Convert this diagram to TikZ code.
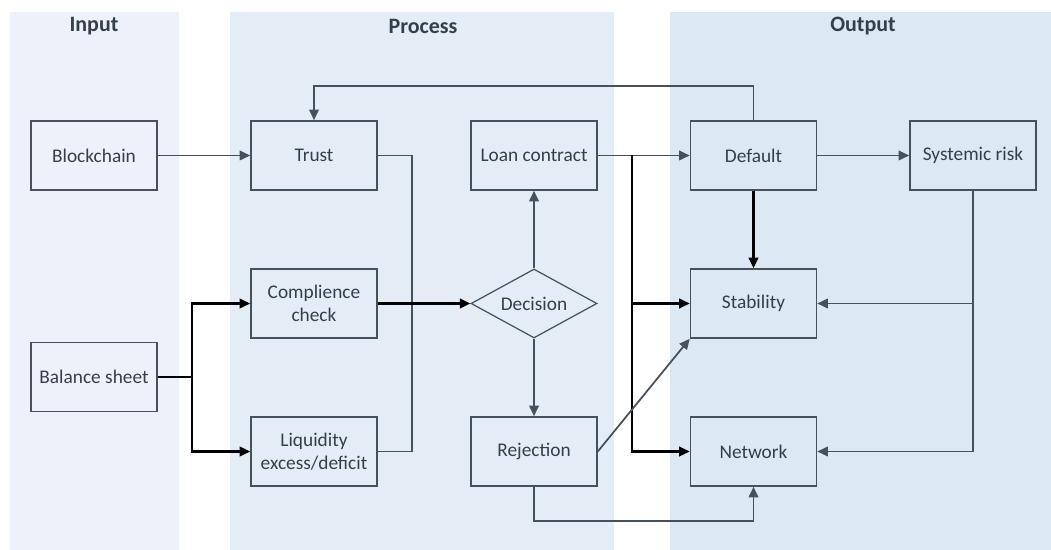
\documentclass[tikz,border=0pt]{standalone}
\usepackage{fontspec}
\setmainfont{Carlito}
\usepackage{xcolor}
\usepackage{tikz}
\usetikzlibrary{arrows.meta, shapes.geometric, positioning}
\definecolor{inputbg}{HTML}{EDF2FA}
\definecolor{processbg}{HTML}{E4ECF6}
\definecolor{outputbg}{HTML}{DCE8F4}
\definecolor{boxline}{HTML}{46515C}
\definecolor{textgrey}{HTML}{353F49}

\tikzset{
  block/.style={draw=boxline, line width=0.9pt, minimum width=2.52cm, minimum height=1.38cm,
    align=center, inner sep=1pt, text=textgrey, font=\fontsize{11}{13}\selectfont},
  decide/.style={block, diamond, aspect=1.83, inner sep=0pt, line width=0.7pt},
  title/.style={text=textgrey, font=\fontsize{12.5}{14}\selectfont\bfseries},
  link/.style={draw=boxline, line width=1pt, -{Triangle[length=2.1mm,width=1.9mm]}},
  plain/.style={draw=boxline, line width=1pt},
  strong/.style={link, draw=black, line width=1.2pt},
}

\begin{document}
\begin{tikzpicture}[x=0.02cm, y=-0.02cm]
  \useasboundingbox (0,0) rectangle (1051,550);
  % columns
  \fill[inputbg] (10,12) rectangle (179,550);
  \fill[processbg] (230,12) rectangle (614,550);
  \fill[outputbg] (670,12) rectangle (1051,550);
  \node[title] (tin) at (94,26) {Input};
  \node[title] (tproc) at (423,26) {Process};
  \node[title] (tout) at (863,26) {Output};

  % boxes
  \node[block] (chain) at (94,155.5) {Blockchain};
  \node[block] (sheet) at (94,377) {Balance sheet};
  \node[block] (trust) at (314,155.5) {Trust};
  \node[block] (check) at (314,303.5) {Complience\\check};
  \node[block] (liquid) at (314,451.5) {Liquidity\\excess/deficit};
  \node[block] (loan) at (534,155.5) {Loan contract};
  \node[decide] (decision) at (534,303.5) {Decision};
  \node[block] (reject) at (534,451.5) {Rejection};
  \node[block] (default) at (753.5,155.5) {Default};
  \node[block] (stable) at (753.5,303.5) {Stability};
  \node[block] (network) at (753.5,451.5) {Network};
  \node[block] (sysrisk) at (973,155.5) {Systemic risk};

  % connectors
  \draw[link] (default.north) -- ++(0,-34) -| (trust.north);
  \draw[link] (chain) -- (trust);
  \draw[plain] (trust.east) -- ++(34,0) |- (liquid.east);
  \draw[strong] (check) -- (decision);
  \draw[strong] (sheet.east) -- ++(34,0) coordinate (sheetfork) |- (check.west);
  \draw[strong] (sheetfork) |- (liquid.west);
  \draw[link] (decision) -- (loan);
  \draw[link] (decision) -- (reject);
  \draw[link] (loan) -- (default);
  \draw[strong] (loan.east) ++(34,0) coordinate (loanfork) |- (stable.west);
  \draw[strong] (loanfork) |- (network.west);
  \draw[link] (reject.east) -- (stable.south west);
  \draw[link] (reject.south) -- ++(0,34) -| (network.south);
  \draw[strong] (default) -- (stable);
  \draw[link] (default) -- (sysrisk);
  \draw[link] (sysrisk.south) |- (stable.east);
  \draw[link] (sysrisk.south) |- (network.east);
\end{tikzpicture}
\end{document}
